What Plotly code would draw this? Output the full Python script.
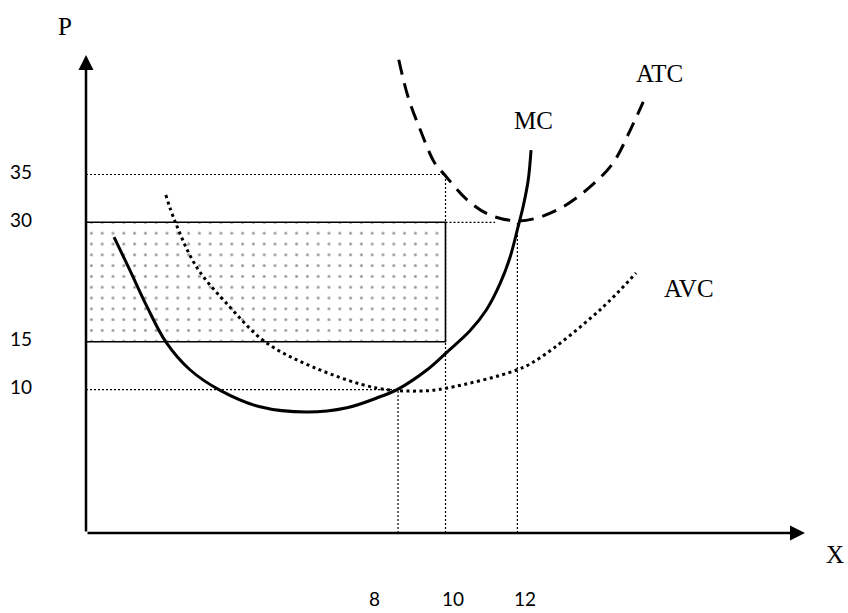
"""Short-run cost curves (MC / ATC / AVC) with the loss rectangle — schematic diagram.

Diagram units: both axes run 0..100; the printed price / quantity numbers are labels only.
"""

import plotly.graph_objects as go

# MC (solid U)
mc_x = [3.9, 6.1, 8.5, 11.1, 14.5, 18.6, 24.2, 30.7, 36.3, 40.9, 43.4, 47.4, 50.1,
        53.4, 55.7, 57.6, 59.0, 60.1, 60.8, 61.5, 61.9]
mc_y = [61.9, 55.0, 47.3, 40.0, 34.1, 29.9, 26.4, 25.3, 26.2, 28.5, 30.1, 34.1, 37.7,
        42.3, 46.7, 52.2, 57.8, 64.1, 68.3, 73.8, 80.1]

# AVC (dotted U)
avc_x = [11.1, 12.4, 15.4, 20.0, 24.9, 31.6, 40.5, 46.5, 50.1, 59.9, 63.1, 71.5, 76.5]
avc_y = [70.7, 65.1, 55.6, 47.3, 40.0, 34.7, 30.3, 29.7, 30.3, 34.1, 36.6, 46.7, 54.4]

# ATC (dashed U)
atc_x = [43.5, 44.8, 46.5, 48.5, 49.9, 53.0, 56.2, 59.9, 62.7, 66.3, 70.1, 73.3, 75.7, 77.5]
atc_y = [99.0, 91.2, 84.3, 77.4, 74.9, 69.7, 66.5, 65.3, 65.9, 68.2, 72.4, 77.4, 84.3, 90.2]

# price levels and quantities (label text + diagram position)
price_labels = ["35", "30", "15", "10"]
price_pos = [75, 65, 40, 30]
qty_labels = ["8", "10", "12"]
qty_pos = [43.4, 50, 60]
qty_label_pos = [40.1, 51.0, 61.1]

LABEL_FONT = dict(family="Liberation Serif, Times New Roman, serif", size=25, color="black")
NUM_FONT = dict(family="Lato, Open Sans, sans-serif", size=19, color="black")
GUIDE = dict(color="black", width=1.2, dash="2px,2px")

fig = go.Figure()

# loss rectangle: P 15..30, Q 0..10, dotted fill
fig.add_trace(go.Scatter(
    x=[0, qty_pos[1], qty_pos[1], 0, 0],
    y=[price_pos[2], price_pos[2], price_pos[1], price_pos[1], price_pos[2]],
    mode="lines", fill="toself",
    fillcolor="white",
    fillpattern=dict(shape=".", size=10.8, solidity=0.06, fgcolor="#333333", bgcolor="white"),
    line=dict(color="black", width=1.6),
    hoverinfo="skip", showlegend=False,
))

# dotted guide lines
guides = [
    ([0, qty_pos[1]], [price_pos[0], price_pos[0]]),          # 35
    ([qty_pos[1], qty_pos[1]], [0, price_pos[0]]),            # Q=10
    ([qty_pos[1], 56.9], [price_pos[1], price_pos[1]]),       # 30 past the box
    ([0, qty_pos[0]], [price_pos[3], price_pos[3]]),          # 10
    ([qty_pos[0], qty_pos[0]], [0, price_pos[3]]),            # Q=8
    ([qty_pos[2], qty_pos[2]], [0, price_pos[1]]),            # Q=12
]
for gx, gy in guides:
    fig.add_trace(go.Scatter(x=gx, y=gy, mode="lines", line=GUIDE,
                             hoverinfo="skip", showlegend=False))

fig.add_trace(go.Scatter(x=avc_x, y=avc_y, mode="lines", line_shape="spline",
                         line=dict(color="black", width=3, dash="3px,3.5px"),
                         name="AVC", showlegend=False))
fig.add_trace(go.Scatter(x=atc_x, y=atc_y, mode="lines", line_shape="spline",
                         line=dict(color="black", width=3, dash="15px,9px"),
                         name="ATC", showlegend=False))
fig.add_trace(go.Scatter(x=mc_x, y=mc_y, mode="lines", line_shape="spline",
                         line=dict(color="black", width=3),
                         name="MC", showlegend=False))

# axes with arrow heads
for tip in [(100, 0), (0, 100)]:
    fig.add_annotation(x=tip[0], y=tip[1], ax=0, ay=0, axref="x", ayref="y",
                       xref="x", yref="y", text="", showarrow=True,
                       arrowhead=2, arrowsize=1.2, arrowwidth=2.5, arrowcolor="black")

# curve / axis labels (paper coords: range 0..100 maps to 0..1)
for txt, lx, ly in [("P", -2.9, 106), ("X", 104.2, -4.6), ("ATC", 79.8, 96.2),
                    ("MC", 62.2, 86.4), ("AVC", 83.9, 51.2)]:
    fig.add_annotation(x=lx / 100, y=ly / 100, xref="paper", yref="paper", text=txt,
                       showarrow=False, font=LABEL_FONT, xanchor="center", yanchor="middle")

for txt, py in zip(price_labels, price_pos):
    fig.add_annotation(x=-0.09, y=py / 100, yshift=3, xref="paper", yref="paper", text=txt,
                       showarrow=False, font=NUM_FONT, xanchor="center", yanchor="middle")
for txt, qx in zip(qty_labels, qty_label_pos):
    fig.add_annotation(x=qx / 100, y=-0.138, xref="paper", yref="paper", text=txt,
                       showarrow=False, font=NUM_FONT, xanchor="center", yanchor="middle",
                       borderpad=0)

fig.update_layout(
    width=848, height=613,
    margin=dict(l=86, r=43, t=55, b=80),
    paper_bgcolor="white", plot_bgcolor="white",
    xaxis=dict(range=[0, 100], visible=False, fixedrange=True),
    yaxis=dict(range=[0, 100], visible=False, fixedrange=True),
    showlegend=False,
)

# drop the default page margin so the figure sits at the window corner
fig.write_html("out.html", config={"displayModeBar": False},
               post_script="document.body.style.margin='0';document.body.style.overflow='hidden';")
